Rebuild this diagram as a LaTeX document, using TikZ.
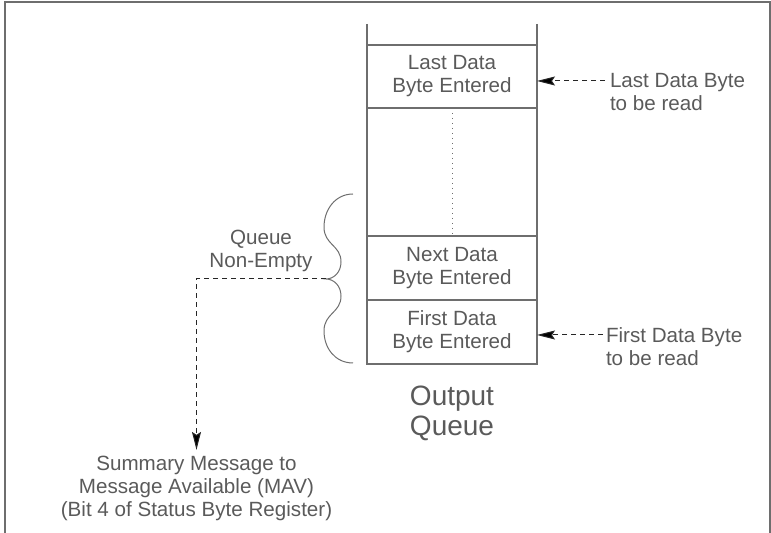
\documentclass[tikz,border=0pt]{standalone}
\usepackage{fontspec}
\setmainfont{Liberation Sans}
\usetikzlibrary{arrows.meta, positioning}
\definecolor{linegray}{RGB}{110,110,110}
\definecolor{textgray}{RGB}{90,90,90}

\begin{document}
\begin{tikzpicture}[
    x=0.5pt, y=-0.5pt,
    cell/.style={rectangle, draw=linegray, line width=0.6pt, minimum width=85pt,
                 minimum height=32pt, inner sep=0pt, outer sep=0pt, align=center,
                 text=textgray, font=\fontsize{10.3}{11.5}\selectfont},
    note/.style={inner sep=0pt, outer sep=0pt, text=textgray,
                 font=\fontsize{10.3}{11.5}\selectfont},
    wall/.style={draw=linegray, line width=0.6pt},
    arrow/.style={-{Stealth[length=9pt, width=4.5pt, inset=1.5pt, fill=black]},
                  line width=0.5pt, draw=black!85, dash pattern=on 2.5pt off 2pt}
]
\useasboundingbox (0,0) rectangle (771,533);
\draw[wall, line width=0.7pt] (5,533) -- (5,2) -- (770,2) -- (770,533);

\node[cell, minimum height=31.5pt] (last) at (452,76.5) {Last Data\\Byte Entered};
\node[cell] (first) at (452,332) {First Data\\Byte Entered};
\node[cell, above=0pt of first] (next) {Next Data\\Byte Entered};
\coordinate (top) at (452,24);
\draw[wall] (top -| first.west) -- (first.south west);
\draw[wall] (top -| first.east) -- (first.south east);
\draw[linegray, dotted, line width=0.5pt] (last.south) -- (next.north);

\node[note, align=center, font=\fontsize{14}{15}\selectfont, below=11pt of first] (outq) {Output\\Queue};

\node[note, align=left, anchor=north west] (lastlbl) at (610,73.4) {Last Data Byte\\to be read};
\node[note, align=left, anchor=north west] (firstlbl) at (606,327.4) {First Data Byte\\to be read};
\path (lastlbl.north west) ++(-5,7.6) coordinate (lastsrc);
\path (firstlbl.north west) ++(-3,7.6) coordinate (firstsrc);
\draw[arrow] (lastsrc) -- (lastsrc -| last.east);
\draw[arrow] (firstsrc) -- (firstsrc -| first.east);

\draw[linegray, line width=0.5pt] (353,194) .. controls (335,194) and (324,210) .. (324,227)
    .. controls (324,245) and (341,245) .. (341,262)
    .. controls (341,272) and (334,279) .. (326,279) coordinate (tip)
    .. controls (334,279) and (341,286) .. (341,296)
    .. controls (341,313) and (324,313) .. (324,331)
    .. controls (324,348) and (335,363) .. (353,363);

\node[note, align=center, anchor=north] (nonempty) at (261,230) {Queue\\Non-Empty};
\node[note, align=center, anchor=north] (mav) at (196.5,455.9)
    {Summary Message to\\Message Available (MAV)\\(Bit 4 of Status Byte Register)};
\draw[arrow, shorten >=3pt] (tip) -| (mav.north);
\end{tikzpicture}
\end{document}
